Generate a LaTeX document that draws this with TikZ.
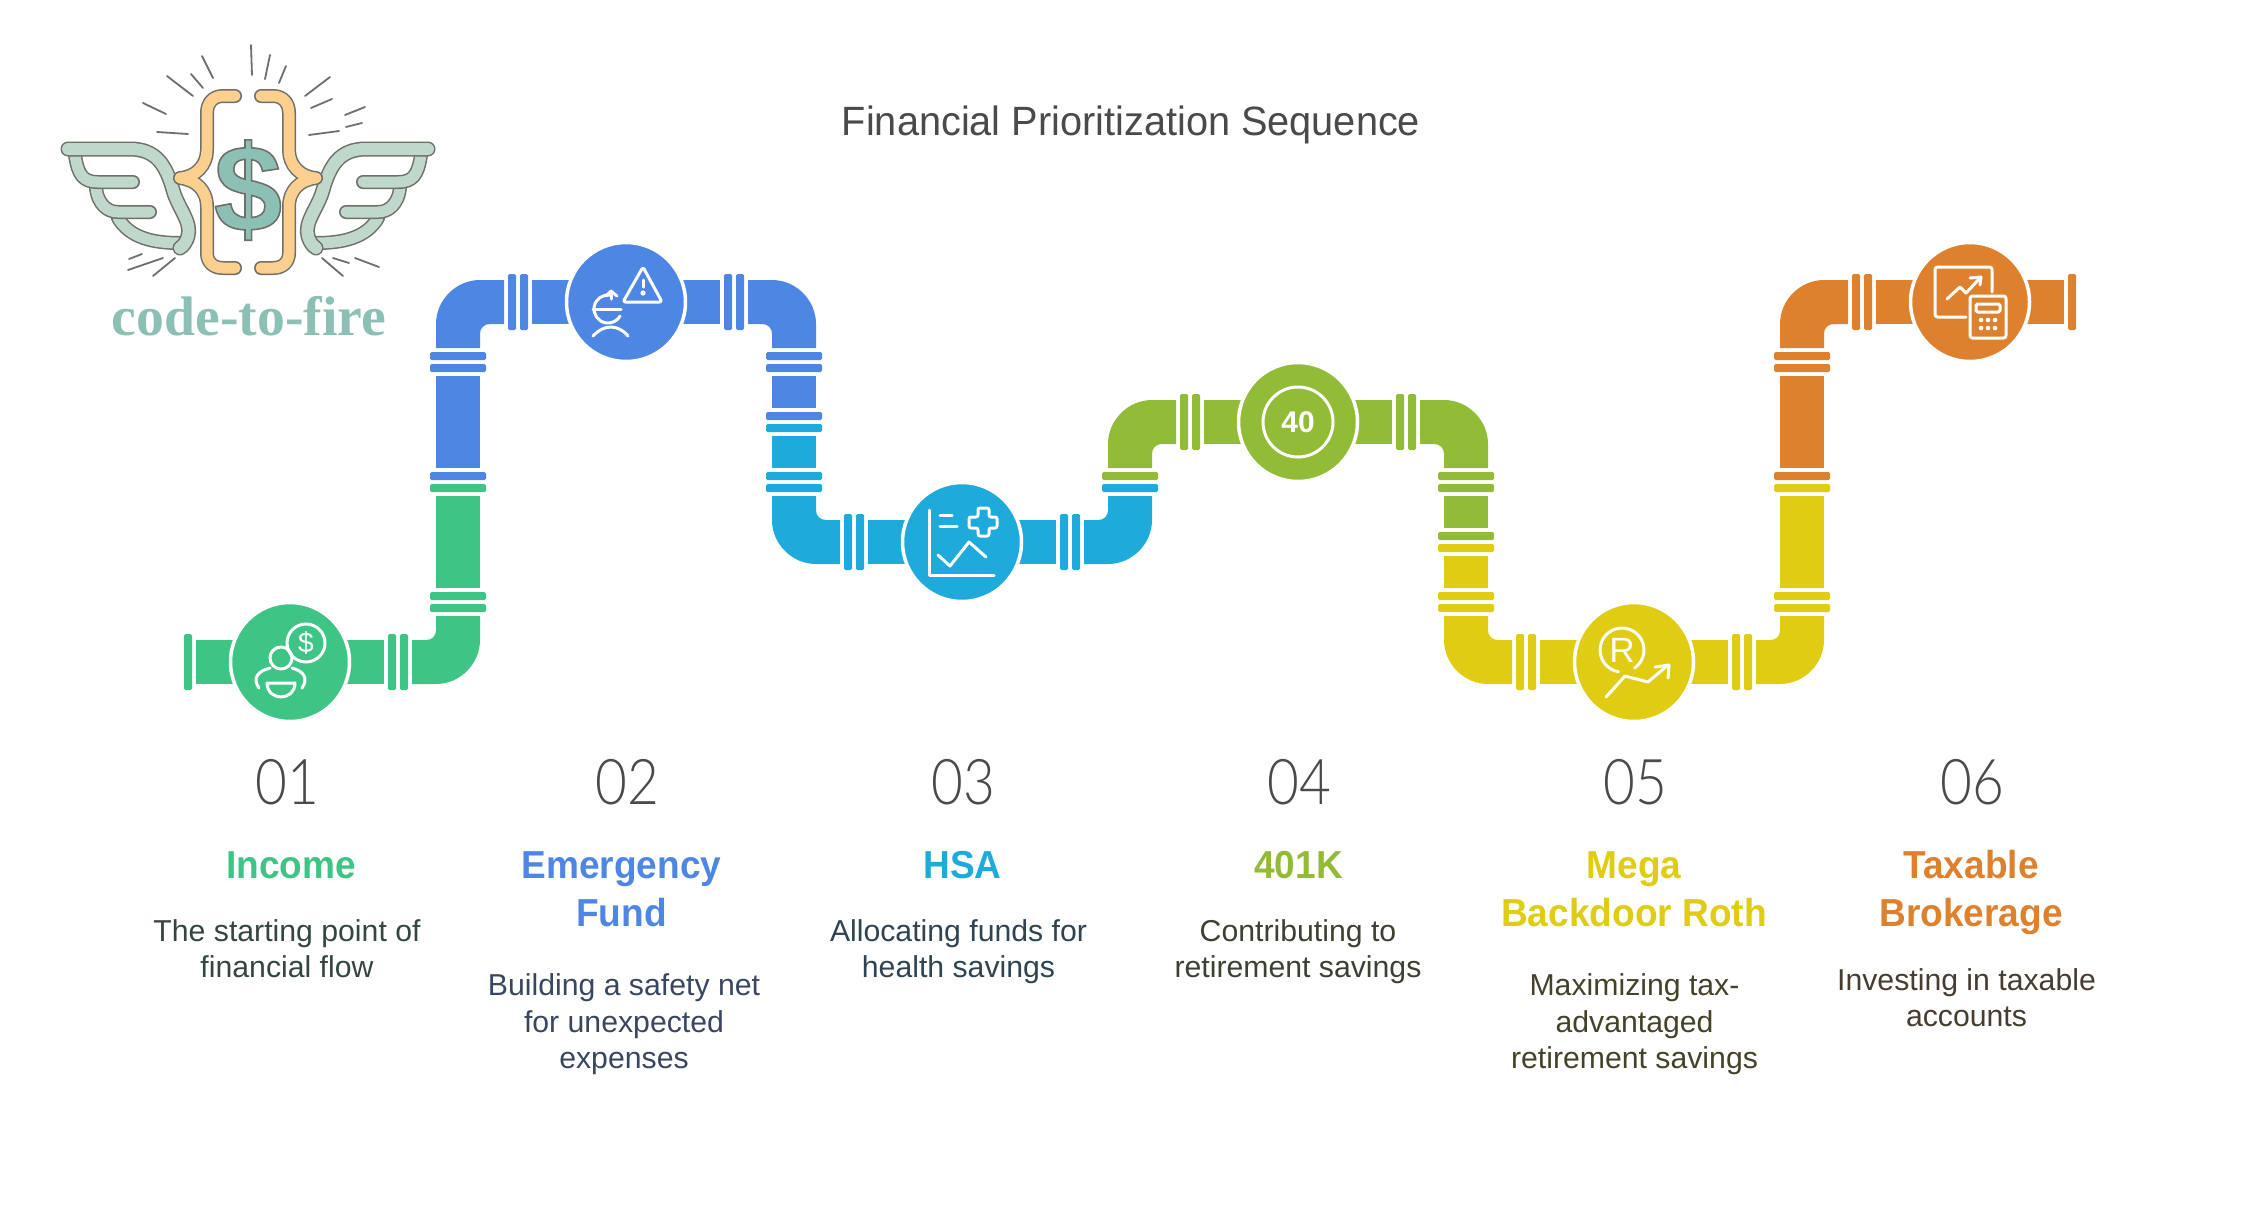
\documentclass[tikz,border=0pt]{standalone}
\usepackage{fontspec}
\usepackage{xcolor}
\setmainfont{Liberation Sans}
\newfontfamily\numfont[FakeStretch=.87]{Lato Light}
\newfontfamily\logofont{Liberation Serif}
\newfontfamily\headfont[FakeStretch=.95]{Liberation Sans}
\newfontfamily\titlefont[FakeStretch=.97]{Liberation Sans}
\usetikzlibrary{arrows.meta,positioning,calc}
\definecolor{StepGreen}{HTML}{3EC484}
\definecolor{StepBlue}{HTML}{4E86E4}
\definecolor{StepCyan}{HTML}{1EAADB}
\definecolor{StepLime}{HTML}{92BB38}
\definecolor{StepYellow}{HTML}{DFCC13}
\definecolor{StepOrange}{HTML}{DE812E}
\definecolor{TitleGray}{HTML}{4A4A4A}
\definecolor{TextGreen}{HTML}{34463F}
\definecolor{TextBlue}{HTML}{3A4660}
\definecolor{TextCyan}{HTML}{2F4450}
\definecolor{TextLime}{HTML}{3C4233}
\definecolor{TextYellow}{HTML}{45422A}
\definecolor{TextOrange}{HTML}{473C30}
\definecolor{LogoTeal}{HTML}{8CC0B5}
\definecolor{LogoMint}{HTML}{BFD8C9}
\definecolor{LogoPeach}{HTML}{FBCF8E}
\definecolor{LogoLine}{HTML}{6E6E6A}
\tikzset{
  stepdisc/.style={circle,fill=#1,draw=white,line width=.07cm,minimum size=2.38cm,inner sep=0pt},
  iconline/.style={draw=white,line width=.06cm,line cap=round,line join=round},
  icontext/.style={text=white,inner sep=0pt},
  stepnum/.style={anchor=base,inner sep=0pt,text=TitleGray,font=\numfont\fontsize{35.9}{40}\selectfont},
  steptitle/.style={anchor=base,inner sep=0pt,align=center,text=#1,font=\headfont\bfseries\fontsize{22.2}{27.3}\selectfont},
  stepdesc/.style={anchor=base,inner sep=0pt,align=center,text=#1,font=\fontsize{17.2}{20.5}\selectfont},
  logoray/.style={draw=LogoLine,line width=.036cm,line cap=round},
}
\newcommand{\pipeelbow}[4]{\fill[#4,shift={(#1,#2)},#3] (-46,-22) -- (-32,-22) .. controls (-26,-22) and (-22,-26) .. (-22,-32) -- (-22,-46) -- (22,-46) -- (22,-22) .. controls (22,2) and (2,22) .. (-22,22) -- (-46,22) -- cycle;}
\newcommand{\logostroke}[3]{\draw[LogoLine,line width=#1*.02cm,line cap=round,line join=round] #3;\draw[#2,line width=(#1-3)*.02cm,line cap=round,line join=round] #3;}
\newcommand{\outlined}[1]{\special{pdf:code 0.43 0.43 0.42 RG 0.9 w 2 Tr}#1\special{pdf:code 0 Tr 0.4 w}}
\begin{document}
\begin{tikzpicture}[x=.02cm,y=-.02cm]
\useasboundingbox (0,0) rectangle (2260,1228);
\node[anchor=base,inner sep=0pt,text=TitleGray,font=\titlefont\fontsize{23.3}{28}\selectfont] (charttitle) at (1131,135) {Financial Prioritization Sequence};
\foreach \a/\b/\c/\d in {251/45/252/75,270/55/265/79,286/66/279/83,330/77/305/96,332/99/311/108,365/107/345/115,362/123/346/127,339/131/309/135,202/56/213/78,191/74/203/88,167/76/193/96,143/103/166/114,157/132/188/134,142/254/129/259,163/258/128/270,175/258/153/276,322/258/343/276,333/258/349/263,355/258/379/267}
  \draw[logoray] (\a,\b) -- (\c,\d);
\foreach \s in {1,-1}{
\begin{scope}[shift={(248,0)},xscale=\s]
\logostroke{14}{LogoMint}{(-130,218) .. controls (-118,238) and (-95,243) .. (-68,243)}
\logostroke{14}{LogoMint}{(-152,188) .. controls (-150,205) and (-140,212) .. (-130,212) -- (-98,212)}
\logostroke{14}{LogoMint}{(-173,155) .. controls (-170,175) and (-165,182) .. (-150,182) -- (-115,182)}
\logostroke{15}{LogoMint}{(-180,149) -- (-118,149) .. controls (-92,149) and (-82,165) .. (-75,190) .. controls (-70,208) and (-56,222) .. (-60,236) .. controls (-62,243) and (-65,246) .. (-68,248)}
\logostroke{14}{LogoPeach}{(-13,96) -- (-25,96) .. controls (-35,96) and (-41,103) .. (-41,113) -- (-41,150) .. controls (-41,165) and (-52,177) .. (-68,178) .. controls (-52,180) and (-41,190) .. (-41,207) -- (-41,253) .. controls (-41,262) and (-35,268) .. (-25,268) -- (-13,268)}
\end{scope}
}
\node[inner sep=0pt,text=LogoTeal,font=\bfseries\fontsize{70}{70}\selectfont] (logodollar) at (248,190) {\outlined{\$}};
\node[anchor=base,inner sep=0pt,text=LogoTeal,font=\logofont\bfseries\fontsize{31.7}{36}\selectfont] (logoname) at (249,335) {code-to-fire};
\foreach \x/\y/\c in {458/352/StepBlue,458/364/StepBlue,458/472/StepBlue,458/484/StepGreen,458/592/StepGreen,458/604/StepGreen,794/352/StepBlue,794/364/StepBlue,794/412/StepBlue,794/424/StepCyan,794/472/StepCyan,794/484/StepCyan,1130/472/StepLime,1130/484/StepCyan,1466/472/StepLime,1466/484/StepLime,1466/532/StepLime,1466/544/StepYellow,1466/592/StepYellow,1466/604/StepYellow,1802/352/StepOrange,1802/364/StepOrange,1802/472/StepOrange,1802/484/StepYellow,1802/592/StepYellow,1802/604/StepYellow}
  \fill[\c,rounded corners=.03cm] (\x-28,\y) rectangle (\x+28,\y+8);
\foreach \x/\y/\c in {184/662/StepGreen,388/662/StepGreen,400/662/StepGreen,508/302/StepBlue,520/302/StepBlue,724/302/StepBlue,736/302/StepBlue,844/542/StepCyan,856/542/StepCyan,1060/542/StepCyan,1072/542/StepCyan,1180/422/StepLime,1192/422/StepLime,1396/422/StepLime,1408/422/StepLime,1516/662/StepYellow,1528/662/StepYellow,1732/662/StepYellow,1744/662/StepYellow,1852/302/StepOrange,1864/302/StepOrange,2068/302/StepOrange}
  \fill[\c,rounded corners=.03cm] (\x,\y-28) rectangle (\x+8,\y+28);
\foreach \x/\a/\b/\c in {458/376/468/StepBlue,458/496/588/StepGreen,794/376/408/StepBlue,794/436/468/StepCyan,1466/496/528/StepLime,1466/556/588/StepYellow,1802/376/468/StepOrange,1802/496/588/StepYellow}
  \fill[\c] (\x-22,\a) rectangle (\x+22,\b);
\foreach \a/\b/\y/\c in {196/384/662/StepGreen,532/720/302/StepBlue,868/1056/542/StepCyan,1204/1392/422/StepLime,1540/1728/662/StepYellow,1876/2064/302/StepOrange}
  \fill[\c] (\a,\y-22) rectangle (\b,\y+22);
\pipeelbow{458}{662}{yscale=1}{StepGreen}
\pipeelbow{458}{302}{xscale=-1,yscale=-1}{StepBlue}
\pipeelbow{794}{302}{yscale=-1}{StepBlue}
\pipeelbow{794}{542}{xscale=-1}{StepCyan}
\pipeelbow{1130}{542}{yscale=1}{StepCyan}
\pipeelbow{1130}{422}{xscale=-1,yscale=-1}{StepLime}
\pipeelbow{1466}{422}{yscale=-1}{StepLime}
\pipeelbow{1466}{662}{xscale=-1}{StepYellow}
\pipeelbow{1802}{662}{yscale=1}{StepYellow}
\pipeelbow{1802}{302}{xscale=-1,yscale=-1}{StepOrange}
\node[stepdisc=StepGreen] (income) at (290,662) {};
\node[stepdisc=StepBlue] (emergency) at (626,302) {};
\node[stepdisc=StepCyan] (hsa) at (962,542) {};
\node[stepdisc=StepLime] (fourohone) at (1298,422) {};
\node[stepdisc=StepYellow] (backdoor) at (1634,662) {};
\node[stepdisc=StepOrange] (taxable) at (1970,302) {};
\begin{scope}[shift={(290,662)}]
\draw[iconline] (-9,-4) circle[radius=11];
\draw[iconline] (16,-19) ++(180:19) arc[start angle=180,end angle=-240,radius=19];
\draw[iconline] (-31,26) .. controls (-38,16) and (-32,9) .. (-20,6);
\draw[iconline] (12,26) .. controls (19,16) and (13,9) .. (2,6);
\draw[iconline] (-23,21) -- (5,21) .. controls (5,30) and (-2,35) .. (-9,35) .. controls (-16,35) and (-23,30) .. (-23,21) -- cycle;
\node[icontext,font=\fontsize{16}{16}\selectfont] (incomesign) at (16,-19) {\$};
\end{scope}
\begin{scope}[shift={(626,302)}]
\draw[iconline,rounded corners=.05cm] (17,-35) -- (36,0) -- (-3,0) -- cycle;
\draw[iconline] (17,-22) -- (17,-15);
\fill[white] (17,-9) circle[radius=2.6];
\draw[iconline] (-33,7) -- (-5,7);
\draw[iconline] (-18,7) ++(-80:14) arc[start angle=-80,end angle=-330,radius=14];
\draw[iconline] (-20,-6) -- (-15,-11) -- (-9,-6);
\draw[iconline] (-15,-11) -- (-15,-3);
\draw[iconline] (-33,34) .. controls (-22,22) and (-8,22) .. (2,34);
\end{scope}
\begin{scope}[shift={(962,542)}]
\draw[iconline] (-33,-32) -- (-33,33) -- (32,33);
\draw[iconline] (-22,-27) -- (-10,-27);
\draw[iconline] (-22,-16) -- (-5,-16);
\draw[iconline,rounded corners=.04cm] (16,-34) -- (27,-34) -- (27,-25) -- (35,-25) -- (35,-14) -- (27,-14) -- (27,-6) -- (16,-6) -- (16,-14) -- (7,-14) -- (7,-25) -- (16,-25) -- cycle;
\draw[iconline] (-24,13) -- (-12,24) -- (7,0) -- (24,15);
\end{scope}
\begin{scope}[shift={(1298,422)}]
\draw[iconline] (0,0) circle[radius=35];
\node[icontext,font=\bfseries\fontsize{17}{17}\selectfont] (retireage) at (0,0) {40};
\end{scope}
\begin{scope}[shift={(1634,662)}]
\draw[iconline] (-12,-12) ++(99:22) arc[start angle=99,end angle=415,radius=22];
\node[icontext,font=\fontsize{20}{20}\selectfont] (rothmark) at (-12,-12) {R};
\draw[iconline] (-28,35) -- (-9,14) -- (14,20) -- (34,3);
\draw[iconline] (21,5) -- (35,3) -- (34,16);
\end{scope}
\begin{scope}[shift={(1970,302)}]
\draw[iconline,rounded corners=.05cm] (22,-10) -- (22,-35) -- (-35,-35) -- (-35,15) -- (-4,15);
\draw[iconline] (-23,-3) -- (-10,-15) -- (-4,-9) -- (10,-24);
\draw[iconline] (0,-24) -- (11,-25) -- (10,-17);
\draw[iconline,rounded corners=.05cm] (0,-6) rectangle (36,36);
\draw[iconline,rounded corners=.03cm] (6,2) rectangle (30,10);
\foreach \x in {11,18,25}{
  \fill[white] (\x,18) circle[radius=2.3];
  \fill[white] (\x,26) circle[radius=2.3];
}
\end{scope}
\node[stepnum] (numa) at (287,804) {01};
\node[stepnum] (numb) at (627,804) {02};
\node[stepnum] (numc) at (963,804) {03};
\node[stepnum] (numd) at (1299,804) {04};
\node[stepnum] (nume) at (1635.5,804) {05};
\node[stepnum] (numf) at (1972,804) {06};
\node[steptitle=StepGreen] (labela) at (291,878) {Income};
\node[steptitle=StepBlue] (labelb) at (621.5,926) {Emergency\\Fund};
\node[steptitle=StepCyan] (labelc) at (962.5,878) {HSA};
\node[steptitle=StepLime] (labeld) at (1298.5,878) {401K};
\node[steptitle=StepYellow] (labele) at (1634,926) {Mega\\Backdoor Roth};
\node[steptitle=StepOrange] (labelf) at (1971,926) {Taxable\\Brokerage};
\node[stepdesc=TextGreen] (texta) at (287,977) {The starting point of\\financial flow};
\node[stepdesc=TextBlue] (textb) at (624,1068) {Building a safety net\\for unexpected\\expenses};
\node[stepdesc=TextCyan] (textc) at (958.5,977) {Allocating funds for\\health savings};
\node[stepdesc=TextLime] (textd) at (1298,977) {Contributing to\\retirement savings};
\node[stepdesc=TextYellow] (texte) at (1634.5,1068) {Maximizing tax-\\advantaged\\retirement savings};
\node[stepdesc=TextOrange] (textf) at (1966.5,1026) {Investing in taxable\\accounts};
\end{tikzpicture}
\end{document}
